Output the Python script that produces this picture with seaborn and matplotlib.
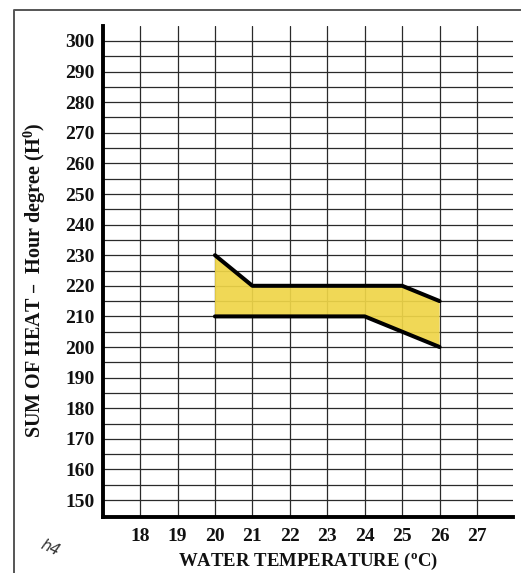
import numpy as np
import pandas as pd
import matplotlib
matplotlib.use("Agg")
import matplotlib.pyplot as plt
from matplotlib.lines import Line2D
import seaborn as sns

# ---- data ----
upper_x = [20, 21, 25, 26]
upper_y = [230, 220, 220, 215]
lower_x = [20, 24, 26]
lower_y = [210, 210, 200]
x_ticks = [18, 19, 20, 21, 22, 23, 24, 25, 26, 27]
y_ticks = [150, 160, 170, 180, 190, 200, 210, 220, 230, 240, 250, 260, 270, 280, 290, 300]
y_minor = [155, 165, 175, 185, 195, 205, 215, 225, 235, 245, 255, 265, 275, 285, 295]

sns.set_theme(style="white")
plt.rcParams["font.family"] = ["Liberation Serif", "DejaVu Serif"]
plt.rcParams["font.weight"] = "bold"
plt.rcParams["mathtext.default"] = "regular"

fig = plt.figure(figsize=(5.21, 5.73), dpi=100)
ax = fig.add_axes([103/521, 1-517/573, 410/521, 491/573])

ax.set_xlim(17.01, 27.96)
ax.set_ylim(144.45, 304.9)

# grid
grid_kw = dict(color="#2a2a2a", lw=0.9, zorder=1)
for v in x_ticks:
    ax.axvline(v, **grid_kw)
for h in y_ticks + y_minor:
    ax.axhline(h, **grid_kw)

# yellow band
poly_x = upper_x + lower_x[::-1]
poly_y = upper_y + lower_y[::-1]
ax.fill(poly_x, poly_y, color="#efd548", alpha=0.92, lw=0, zorder=2)

up = pd.DataFrame({"x": upper_x, "y": upper_y})
lo = pd.DataFrame({"x": lower_x, "y": lower_y})
sns.lineplot(data=up, x="x", y="y", color="black", lw=2.9, ax=ax, zorder=3,
             solid_capstyle="round")
sns.lineplot(data=lo, x="x", y="y", color="black", lw=2.9, ax=ax, zorder=3,
             solid_capstyle="round")

ax.set_xticks(x_ticks)
ax.set_yticks(y_ticks)
ax.set_xticklabels([str(v) for v in x_ticks], fontsize=14, fontweight="bold")
ax.set_yticklabels([str(v) for v in y_ticks], fontsize=14, fontweight="bold")
ax.tick_params(axis="x", length=0, pad=8, colors="#111111")
ax.tick_params(axis="y", length=0, pad=6, colors="#111111")

for s in ["top", "right"]:
    ax.spines[s].set_visible(False)
for s in ["left", "bottom"]:
    ax.spines[s].set_color("black")
    ax.spines[s].set_linewidth(2.8)
    ax.spines[s].set_zorder(5)

ax.set_xlabel("WATER TEMPERATURE ($^o$C)", fontsize=13.5, fontweight="bold",
              color="#111111")
ax.xaxis.set_label_coords(0.5, -(566 - 517) / 491)
ax.xaxis.label.set_va("baseline")
ax.set_ylabel("SUM OF HEAT \u2013  Hour degree (H$^0$)", fontsize=14.5,
              fontweight="bold", color="#111111")
ax.yaxis.set_label_coords(-0.133, 0.483)

# outer frame (top and left edges)
fig.add_artist(Line2D([14/521, 14/521, 1.0], [0.0, 1-10/573, 1-10/573],
                      transform=fig.transFigure, color="#555555", lw=1.4))

# handwritten mark
fig.text(50/521, 1-548/573, "h4", fontsize=11, style="italic",
         fontweight="normal", family="DejaVu Sans", rotation=-25,
         ha="center", va="center", color="#333333")

fig.savefig("out.png", dpi=100)
